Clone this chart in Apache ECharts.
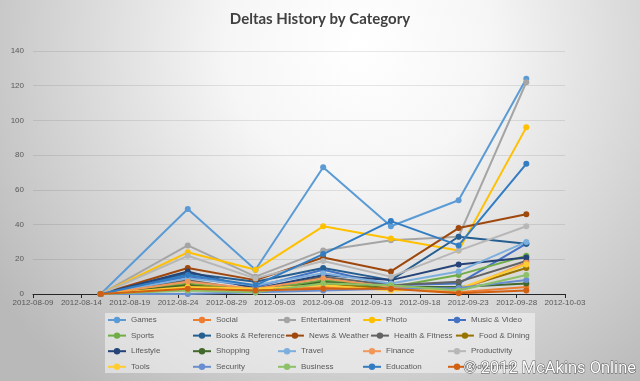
<!DOCTYPE html>
<html>
<head>
<meta charset="utf-8">
<script src="https://cdn.jsdelivr.net/npm/echarts@6/dist/echarts.min.js"></script>
<style>
html,body{margin:0;padding:0;background:#fff;}
#c{width:640px;height:381px;}
</style>
</head>
<body>
<div id="c"></div>
<script>
// ---- data ----
var dates = ['2012-08-16','2012-08-25','2012-09-01','2012-09-08','2012-09-15','2012-09-22','2012-09-29'];
var xTickLabels = ['2012-08-09','2012-08-14','2012-08-19','2012-08-24','2012-08-29','2012-09-03','2012-09-08','2012-09-13','2012-09-18','2012-09-23','2012-09-28','2012-10-03'];
var categories = ['Games','Social','Entertainment','Photo','Music & Video','Sports','Books & Reference','News & Weather','Health & Fitness','Food & Dining','Lifestyle','Shopping','Travel','Finance','Productivity','Tools','Security','Business','Education','Government'];
var games          = [0, 49, 14, 73, 39, 54, 124];
var social         = [0, 4, 2, 4, 3, 1, 4];
var entertainment  = [0, 28, 10, 25, 31, 33, 122];
var photo          = [0, 24, 14, 39, 32, 25, 96];
var musicVideo     = [0, 10, 4, 14, 5, 6, 29];
var sports         = [0, 6, 2, 8, 4, 11, 22];
var booksReference = [0, 12, 7, 15, 8, 33, 29];
var newsWeather    = [0, 15, 8, 21, 13, 38, 46];
var healthFitness  = [0, 8, 2, 10, 5, 7, 19];
var foodDining     = [0, 5, 2, 6, 3, 3, 15];
var lifestyle      = [0, 13, 3, 11, 8, 17, 21];
var shopping       = [0, 5, 1, 7, 4, 4, 6];
var travel         = [0, 9, 5, 12, 6, 13, 30];
var finance        = [0, 7, 3, 9, 4, 2, 18];
var productivity   = [0, 22, 9, 19, 10, 25, 39];
var tools          = [0, 4, 3, 5, 2, 3, 17];
var security       = [0, 0, 1, 2, 3, 3.5, 8];
var business       = [0, 2, 1, 6, 5, 2, 11];
var education      = [0, 11, 5, 23, 42, 28, 75];
var government     = [0, 3, 2, 3, 3, 0.5, 2];
var seriesValues = [games, social, entertainment, photo, musicVideo, sports, booksReference, newsWeather, healthFitness, foodDining, lifestyle, shopping, travel, finance, productivity, tools, security, business, education, government];
var colors = ['#5B9BD5','#ED7D31','#A5A5A5','#FFC000','#4472C4','#70AD47','#255E91','#9E480E','#636363','#997300','#264478','#43682B','#7CAFDD','#F1975A','#B7B7B7','#FFCD33','#698ED0','#8CC168','#327DC2','#D26012'];

// ---- helpers ----
var DAY = 86400000;
function toMs(s){ var p = s.split('-'); return Date.UTC(+p[0], +p[1]-1, +p[2]); }
var base = toMs(xTickLabels[0]);
function dayOffset(s){ return Math.round((toMs(s) - base) / DAY); }
var xMin = 0, xMax = dayOffset(xTickLabels[xTickLabels.length-1]), xStep = dayOffset(xTickLabels[1]);

var series = categories.map(function(name, i){
  return {
    name: name, type: 'line',
    data: seriesValues[i].map(function(v, j){ return [dayOffset(dates[j]), v]; }),
    symbol: 'circle', symbolSize: 6,
    lineStyle: { width: 2, color: colors[i] },
    itemStyle: { color: colors[i] },
    emphasis: { disabled: true },
    animation: false
  };
});

// legends: 4 rows of 5
var legends = [];
for (var r = 0; r < 4; r++) {
  legends.push({
    data: categories.slice(r*5, r*5+5),
    left: 107, top: 312.5 + r*15.6,
    orient: 'horizontal',
    padding: 0, itemGap: 0, itemWidth: 18, itemHeight: 8,
    textStyle: { fontFamily: 'Liberation Sans', fontSize: 8, color: '#595959', width: 61, overflow: 'none', lineHeight: 15 },
    selectedMode: false
  });
}

var chart = echarts.init(document.getElementById('c'), null, {renderer: 'canvas'});
chart.setOption({
  animation: false,
  backgroundColor: {
    type: 'radial', x: 0.56, y: 0.12, r: 1.15,
    colorStops: [
      {offset: 0, color: '#ffffff'},
      {offset: 0.3, color: '#f6f6f6'},
      {offset: 1, color: '#b9b9b9'}
    ]
  },
  color: colors,
  title: {
    text: 'Deltas History by Category',
    left: 'center', top: 7,
    textStyle: { fontFamily: 'Lato', fontWeight: 'bold', fontSize: 15, color: '#404040' }
  },
  graphic: [
    { type: 'rect', left: 105, top: 313, shape: { width: 430, height: 60 },
      style: { fill: 'rgba(245,245,245,0.55)' }, z: -1, silent: true },
    { type: 'text', left: 463, top: 360, z: 100, silent: true,
      style: { text: '\u00A9 2012 McAkins Online', font: '16.5px Roboto', fill: '#ffffff', stroke: '#555555', lineWidth: 1 } }
  ],
  grid: { left: 33, right: 75, top: 51, bottom: 87, containLabel: false },
  legend: legends,
  xAxis: {
    type: 'value', min: xMin, max: xMax, interval: xStep,
    axisLine: { show: true, lineStyle: { color: '#262626', width: 1 } },
    axisTick: { show: true, length: 4, lineStyle: { color: '#262626' } },
    splitLine: { show: false },
    axisLabel: {
      fontFamily: 'Liberation Sans', fontSize: 8, color: '#595959', margin: 5,
      formatter: function(v){ var i = Math.round(v / xStep); return xTickLabels[i] || ''; }
    }
  },
  yAxis: {
    type: 'value', min: 0, max: 140, interval: 20,
    axisLine: { show: false }, axisTick: { show: false },
    splitLine: { lineStyle: { color: 'rgba(0,0,0,0.09)', width: 1 } },
    axisLabel: { fontFamily: 'Liberation Sans', fontSize: 8, color: '#595959', margin: 9 }
  },
  series: series
});
</script>
</body>
</html>
